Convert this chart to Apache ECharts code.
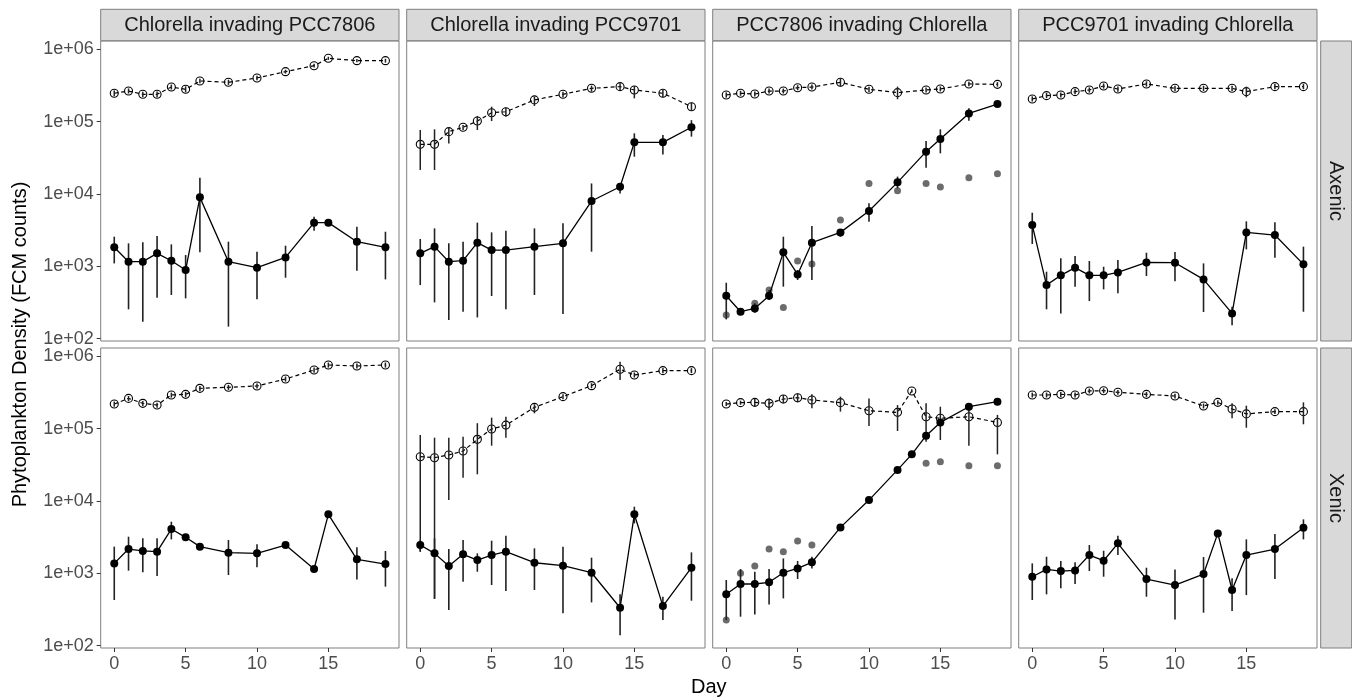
<!DOCTYPE html>
<html><head><meta charset="utf-8">
<script src="https://cdn.jsdelivr.net/npm/echarts@6/dist/echarts.min.js"></script>
<style>html,body{margin:0;padding:0;background:#fff}#c{width:1352px;height:697px}</style>
</head><body><div id="c"></div>
<script>
// ---------- data ----------
const days = [0,1,2,3,4,5,6,8,10,12,14,15,17,19];
const days13 = [0,1,2,3,4,5,6,8,10,12,13,14,15,17,19];
const colTitles = ['Chlorella invading PCC7806','Chlorella invading PCC9701','PCC7806 invading Chlorella','PCC9701 invading Chlorella'];
const rowTitles = ['Axenic','Xenic'];
const yTickValues = [1e2,1e3,1e4,1e5,1e6];
const xTickValues = [0,5,10,15];

// Axenic, Chlorella invading PCC7806
const ax1_res   = [247000,265000,239000,239000,301000,280000,365000,350000,402000,491000,594000,751000,697000,697000];
const ax1_resLo = [225000,245000,220000,218000,278000,255000,340000,322000,375000,462000,560000,715000,660000,655000];
const ax1_resHi = [270000,288000,260000,262000,326000,308000,392000,380000,430000,522000,630000,790000,735000,740000];
const ax1_inv   = [1833,1161,1161,1514,1197,889,8990,1161,959,1330,4020,4020,2193,1833];
const ax1_invLo = [1099,255,172,369,402,361,1563,147,350,697,3110,3900,871,661];
const ax1_invHi = [2570,2080,2150,2625,2014,1435,16800,2193,1596,1931,4860,4150,3530,3010];
// Axenic, Chlorella invading PCC9701
const ax2_res   = [48600,48600,72800,83600,102000,133000,137000,200000,239000,289000,305000,274000,247000,161000];
const ax2_resLo = [21500,21500,50100,76700,76700,102000,117000,165000,217000,260000,269000,210000,217000,142000];
const ax2_resHi = [76700,78400,83600,89900,120000,161000,156000,222000,260000,315000,339000,311000,274000,183000];
const ax2_inv   = [1514,1872,1161,1197,2124,1681,1681,1872,2080,8000,12600,51800,51800,83600];
const ax2_invLo = [552,318,181,236,197,389,255,402,219,1596,10200,32800,35300,62100];
const ax2_invHi = [2390,3350,2080,2190,4020,2950,3110,3350,3930,14000,14000,69000,65400,105000];
// Axenic, PCC7806 invading Chlorella
const ax3_res   = [234000,247000,241000,265000,265000,295000,301000,350000,280000,252000,274000,283000,332000,328000];
const ax3_resLo = [215000,228000,222000,245000,245000,272000,278000,305000,258000,204000,253000,262000,308000,305000];
const ax3_resHi = [254000,267000,262000,287000,287000,320000,326000,397000,303000,305000,297000,306000,357000,352000];
const ax3_inv   = [393,236,262,393,1563,774,2124,2950,5820,14500,38500,57500,130000,175000];
const ax3_invLo = [185,212,228,343,524,647,647,2570,4150,12000,23100,36500,103000,161000];
const ax3_invHi = [594,262,308,471,2570,889,3610,3180,7430,17400,54100,78400,153000,189000];
const ax3_repDays = [0,2,3,4,5,6,8,10,12,14,15,17,19];
const ax3_rep     = [212,308,471,271,1186,1077,4370,14000,11100,14000,12500,16800,19100];
// Axenic, PCC9701 invading Chlorella
const ax4_res   = [206000,229000,234000,260000,274000,311000,283000,332000,289000,289000,289000,260000,305000,305000];
const ax4_resLo = [190000,211000,215000,239000,252000,286000,260000,305000,266000,266000,266000,217000,281000,281000];
const ax4_resHi = [224000,249000,254000,283000,298000,338000,307000,361000,314000,314000,314000,305000,331000,331000];
const ax4_inv   = [3720,552,751,959,751,751,826,1135,1124,661,224,2950,2710,1066];
const ax4_invLo = [2040,255,224,524,332,481,424,735,621,234,153,1718,1318,236];
const ax4_invHi = [5520,844,1291,1390,1186,988,1224,1545,1578,1099,277,4190,4060,1872];
// Xenic, Chlorella invading PCC7806
const xe1_res   = [219000,262000,224000,212000,292000,298000,361000,373000,389000,486000,647000,759000,735000,759000];
const xe1_resLo = [201000,241000,206000,195000,269000,274000,332000,343000,358000,447000,595000,698000,676000,698000];
const xe1_resHi = [237000,283000,242000,229000,315000,322000,390000,403000,420000,525000,699000,820000,794000,820000];
const xe1_inv   = [1374,2170,2040,1995,4100,3150,2340,1931,1890,2466,1148,6550,1563,1345];
const xe1_invLo = [428,1089,1033,918,2950,2900,2150,948,1211,2300,1060,6200,826,655];
const xe1_invHi = [2340,3210,3050,3050,5180,3400,2540,2890,2520,2650,1240,6900,2290,2040];
// Xenic, Chlorella invading PCC9701
const xe2_res   = [41000,39700,43300,49100,71200,98900,112000,197000,277000,393000,661000,552000,634000,634000];
const xe2_resLo = [1995,451,10300,21000,23400,58200,75100,163000,255000,362000,471000,510000,585000,585000];
const xe2_resHi = [81700,75100,75100,77400,119000,142000,146000,217000,300000,425000,844000,598000,687000,687000];
const xe2_inv   = [2466,1890,1262,1833,1528,1791,1995,1403,1276,1021,335,6550,353,1197];
const xe2_invLo = [1995,442,311,767,1054,690,570,589,280,397,140,4910,226,419];
const xe2_invHi = [2890,3050,2170,2890,1890,2830,3320,2220,2340,1648,513,8350,476,1950];
// Xenic, PCC7806 invading Chlorella
const xe3_res   = [219000,229000,231000,224000,257000,268000,249000,229000,177000,168000,332000,146000,139000,146000,122000];
const xe3_resLo = [205000,214000,201000,181000,224000,231000,191000,172000,109000,92900,315000,66100,69700,58200,44200];
const xe3_resHi = [234000,244000,262000,262000,292000,307000,298000,277000,262000,212000,350000,224000,201000,201000,155000];
const xe3_inv   = [513,713,713,752,1021,1172,1419,4320,10300,26900,44200,80000,122000,201000,236000];
const xe3_invLo = [226,252,271,372,451,835,1172,4000,9600,25000,41000,74000,113000,186000,212000];
const xe3_invHi = [809,1148,1054,1148,1610,1483,1698,4650,11000,29000,47500,86000,131000,216000,262000];
const xe3_repDays = [0,1,2,3,4,5,6,14,15,17,19];
const xe3_rep     = [226,1000,1262,2170,1995,2800,2466,33200,35000,30800,30800];
// Xenic, PCC9701 invading Chlorella
const xe4_res   = [292000,292000,298000,292000,332000,335000,318000,298000,283000,206000,231000,187000,160000,172000,172000];
const xe4_resLo = [270000,270000,275000,270000,307000,310000,294000,275000,262000,190000,214000,139000,103000,159000,115000];
const xe4_resHi = [315000,315000,321000,315000,358000,362000,343000,321000,305000,222000,248000,224000,208000,186000,231000];
const xe4_inv   = [899,1135,1077,1099,1791,1496,2600,835,690,979,3570,589,1791,2170,4280];
const xe4_invLo = [428,513,621,713,1077,899,1791,476,231,286,3450,301,501,835,2950];
const xe4_invHi = [1374,1698,1483,1419,2466,2055,3320,1197,1135,1682,3700,853,2950,3500,5580];

// ---------- layout ----------
const panels = [
  {row:0,col:0,d:days,  res:ax1_res,resLo:ax1_resLo,resHi:ax1_resHi,inv:ax1_inv,invLo:ax1_invLo,invHi:ax1_invHi},
  {row:0,col:1,d:days,  res:ax2_res,resLo:ax2_resLo,resHi:ax2_resHi,inv:ax2_inv,invLo:ax2_invLo,invHi:ax2_invHi},
  {row:0,col:2,d:days,  res:ax3_res,resLo:ax3_resLo,resHi:ax3_resHi,inv:ax3_inv,invLo:ax3_invLo,invHi:ax3_invHi,repD:ax3_repDays,rep:ax3_rep},
  {row:0,col:3,d:days,  res:ax4_res,resLo:ax4_resLo,resHi:ax4_resHi,inv:ax4_inv,invLo:ax4_invLo,invHi:ax4_invHi},
  {row:1,col:0,d:days,  res:xe1_res,resLo:xe1_resLo,resHi:xe1_resHi,inv:xe1_inv,invLo:xe1_invLo,invHi:xe1_invHi},
  {row:1,col:1,d:days,  res:xe2_res,resLo:xe2_resLo,resHi:xe2_resHi,inv:xe2_inv,invLo:xe2_invLo,invHi:xe2_invHi},
  {row:1,col:2,d:days13,res:xe3_res,resLo:xe3_resLo,resHi:xe3_resHi,inv:xe3_inv,invLo:xe3_invLo,invHi:xe3_invHi,repD:xe3_repDays,rep:xe3_rep},
  {row:1,col:3,d:days13,res:xe4_res,resLo:xe4_resLo,resHi:xe4_resHi,inv:xe4_inv,invLo:xe4_invLo,invHi:xe4_invHi}
];
const colLeft = [100.7, 406.7, 712.7, 1018.7];
const PW = 298.3, PH = 300;
const rowTop = [41, 348];
const FONT = 'Liberation Sans, Arial, Helvetica, sans-serif';
const BORDER = '#7f7f7f';

function errBar(gi, d, lo, hi, color, w, z) {
  return {
    type:'custom', xAxisIndex:gi, yAxisIndex:gi, z:z, silent:true,
    encode:{x:0, y:[1,2]},
    data: d.map((x,k)=>[x, lo[k], hi[k]]),
    renderItem: function(params, api) {
      const p1 = api.coord([api.value(0), api.value(1)]);
      const p2 = api.coord([api.value(0), api.value(2)]);
      return {type:'line', shape:{x1:p1[0],y1:p1[1],x2:p2[0],y2:p2[1]}, style:{stroke:color, lineWidth:w}};
    }
  };
}

const grids = [], xAxes = [], yAxes = [], series = [];
panels.forEach((p, i) => {
  grids.push({left:colLeft[p.col], top:rowTop[p.row], width:PW, height:PH, show:true,
    borderColor:BORDER, borderWidth:1, backgroundColor:'#fff'});
  xAxes.push({gridIndex:i, type:'value', min:-0.95, max:19.95, position:'bottom',
    axisLine:{show:false, onZero:false}, splitLine:{show:false},
    axisTick:{show:p.row===1, length:4, lineStyle:{color:'#333', width:1}, customValues:xTickValues},
    axisLabel:{show:p.row===1, customValues:xTickValues, margin:7, fontSize:18, color:'#4d4d4d', fontFamily:FONT}
  });
  yAxes.push({gridIndex:i, type:'log', logBase:10, min:93, max:1303000, position:'left',
    axisLine:{show:false, onZero:false}, splitLine:{show:false}, minorTick:{show:false},
    axisTick:{show:p.col===0, length:4, lineStyle:{color:'#333', width:1}, customValues:yTickValues},
    axisLabel:{show:p.col===0, customValues:yTickValues, margin:7, fontSize:18, color:'#4d4d4d', fontFamily:FONT,
      formatter: v => '1e+' + String(Math.round(Math.log10(v))).padStart(2,'0')}
  });
  series.push({type:'line', xAxisIndex:i, yAxisIndex:i, z:3, silent:true,
    data:p.d.map((x,k)=>[x, p.res[k]]),
    symbol:'circle', symbolSize:8,
    lineStyle:{color:'#000', width:1.2, type:[4,3]},
    itemStyle:{color:'rgba(255,255,255,0)', borderColor:'#000', borderWidth:1.1}
  });
  series.push(errBar(i, p.d, p.resLo, p.resHi, '#222', 1.5, 4));
  if (p.rep) {
    series.push({type:'scatter', xAxisIndex:i, yAxisIndex:i, z:5, silent:true,
      data:p.repD.map((x,k)=>[x, p.rep[k]]), symbol:'circle', symbolSize:7,
      itemStyle:{color:'#474747'}});
  }
  series.push(errBar(i, p.d, p.invLo, p.invHi, '#222', 1.6, 6));
  series.push({type:'line', xAxisIndex:i, yAxisIndex:i, z:7, silent:true,
    data:p.d.map((x,k)=>[x, p.inv[k]]),
    symbol:'circle', symbolSize:8,
    lineStyle:{color:'#000', width:1.3},
    itemStyle:{color:'#000', borderWidth:0}
  });
});

const graphics = [];
colTitles.forEach((t, c) => {
  graphics.push({type:'rect', shape:{x:colLeft[c], y:9.3, width:PW, height:31.4},
    style:{fill:'#d9d9d9', stroke:BORDER, lineWidth:1}, z:10});
  graphics.push({type:'text', x:colLeft[c]+PW/2, y:25, z:11,
    style:{text:t, font:'20px ' + FONT, fill:'#1a1a1a', align:'center', verticalAlign:'middle', textAlign:'center', textVerticalAlign:'middle'}});
});
rowTitles.forEach((t, r) => {
  graphics.push({type:'rect', shape:{x:1320.7, y:rowTop[r], width:31, height:PH},
    style:{fill:'#d9d9d9', stroke:BORDER, lineWidth:1}, z:10});
  graphics.push({type:'text', x:1336, y:rowTop[r]+PH/2, rotation:-Math.PI/2, z:11,
    style:{text:t, font:'20px ' + FONT, fill:'#1a1a1a', align:'center', verticalAlign:'middle', textAlign:'center', textVerticalAlign:'middle'}});
});
graphics.push({type:'text', x:708.8, y:687, z:11,
  style:{text:'Day', font:'20px ' + FONT, fill:'#000', align:'center', verticalAlign:'middle', textAlign:'center', textVerticalAlign:'middle'}});
graphics.push({type:'text', x:20, y:344.5, rotation:Math.PI/2, z:11,
  style:{text:'Phytoplankton Density (FCM counts)', font:'20px ' + FONT, fill:'#000', align:'center', verticalAlign:'middle', textAlign:'center', textVerticalAlign:'middle'}});

const chart = echarts.init(document.getElementById('c'), null, {renderer:'canvas'});
chart.setOption({
  animation:false, backgroundColor:'#fff',
  grid:grids, xAxis:xAxes, yAxis:yAxes, series:series, graphic:graphics
});
</script></body></html>
